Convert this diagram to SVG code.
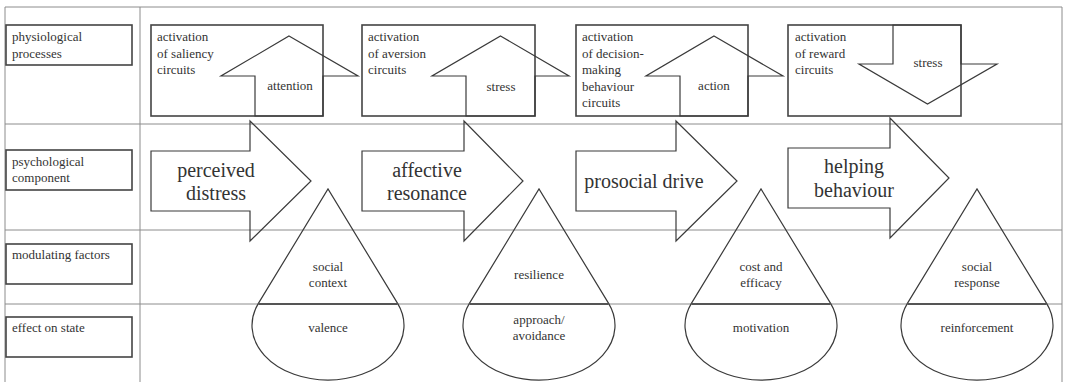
<svg xmlns="http://www.w3.org/2000/svg" width="1070" height="382" viewBox="0 0 1070 382" font-family="Liberation Serif" fill="#333">
<style>
.grid{stroke:#8c8c8c;stroke-width:1;fill:none}
.box{stroke:#444;stroke-width:1.6;fill:none}
.shape{stroke:#3a3a3a;stroke-width:1.2;fill:none}
.chord{stroke:#555;stroke-width:2;fill:none}
.s{font-size:13px}
.m{font-size:13px;text-anchor:middle}
.b{font-size:20px;text-anchor:middle}
</style>
<rect width="1070" height="382" fill="#fff"/>
<g id="grid">
<path class="grid" d="M5,7H1062M5,124H1062M5,230H1062M5,304H1062M5,7V382M140,7V382M1062,7V382"/>
</g>
<g id="labels">
<g id="label-physio"><rect class="box" x="6" y="25" width="126" height="40"/><text class="s" x="12" y="41">physiological</text><text class="s" x="12" y="58">processes</text></g>
<g id="label-psych"><rect class="box" x="6" y="150" width="126" height="40"/><text class="s" x="12" y="166">psychological</text><text class="s" x="12" y="182">component</text></g>
<g id="label-mod"><rect class="box" x="6" y="244" width="126" height="40"/><text class="s" x="12" y="259">modulating factors</text></g>
<g id="label-effect"><rect class="box" x="6" y="317" width="126" height="40"/><text class="s" x="12" y="332">effect on state</text></g>
</g>
<g id="physio1">
<rect class="box" x="151" y="25" width="172" height="91"/>
<text class="s" x="157" y="41">activation</text><text class="s" x="157" y="57.5">of saliency</text><text class="s" x="157" y="74">circuits</text>
<path class="shape" d="M289,36L358,76H323V116H255V76H221Z"/>
<text class="m" x="290" y="90">attention</text>
</g>
<g id="physio2">
<rect class="box" x="362" y="25" width="173" height="91"/>
<text class="s" x="368" y="41">activation</text><text class="s" x="368" y="57.5">of aversion</text><text class="s" x="368" y="74">circuits</text>
<path class="shape" d="M500.5,36L569,76H535V116H466V76H432Z"/>
<text class="m" x="501" y="91">stress</text>
</g>
<g id="physio3">
<rect class="box" x="576" y="25" width="172" height="91"/>
<text class="s" x="582" y="41">activation</text><text class="s" x="582" y="57.5">of decision-</text><text class="s" x="582" y="74">making</text><text class="s" x="582" y="90.5">behaviour</text><text class="s" x="582" y="107">circuits</text>
<path class="shape" d="M714,36L783,76H748V116H680V76H646Z"/>
<text class="m" x="714" y="90">action</text>
</g>
<g id="physio4">
<rect class="box" x="788" y="25" width="173" height="91"/>
<text class="s" x="795" y="41">activation</text><text class="s" x="795" y="57.5">of reward</text><text class="s" x="795" y="74">circuits</text>
<path class="shape" d="M893,25H961V64H997L927.5,104L859,64H893Z"/>
<text class="m" x="928" y="67">stress</text>
</g>
<g id="psych1">
<path class="shape" d="M151,151H250V121L311,181L250,241V211H151Z"/>
<text class="b" x="216" y="177">perceived</text><text class="b" x="216" y="200">distress</text>
</g>
<g id="psych2">
<path class="shape" d="M362,151H464V121L523,181L464,241V211H362Z"/>
<text class="b" x="427" y="177">affective</text><text class="b" x="427" y="200">resonance</text>
</g>
<g id="psych3">
<path class="shape" d="M576,151H676V121L737,181L676,241V211H576Z"/>
<text class="b" x="644" y="188">prosocial drive</text>
</g>
<g id="psych4">
<path class="shape" d="M788,148H890V118L949,178L890,238V208H788Z"/>
<text class="b" x="854" y="173">helping</text><text class="b" x="854" y="197">behaviour</text>
</g>
<g id="drop1">
<path class="shape" d="M258.4,303.4L328,189L397.6,303.4A76 54.7 0 1 1 258.4,303.4Z"/>
<path class="chord" d="M258.4,304H397.6"/>
<text class="m" x="328" y="271">social</text><text class="m" x="328" y="287">context</text>
<text class="m" x="328" y="332">valence</text>
</g>
<g id="drop2">
<path class="shape" d="M469.4,303.4L539,189L608.6,303.4A76 54.7 0 1 1 469.4,303.4Z"/>
<path class="chord" d="M469.4,304H608.6"/>
<text class="m" x="539" y="279">resilience</text>
<text class="m" x="539" y="324">approach/</text><text class="m" x="539" y="340">avoidance</text>
</g>
<g id="drop3">
<path class="shape" d="M691.4,303.4L761,189L830.6,303.4A76 54.7 0 1 1 691.4,303.4Z"/>
<path class="chord" d="M691.4,304H830.6"/>
<text class="m" x="761" y="271">cost and</text><text class="m" x="761" y="287">efficacy</text>
<text class="m" x="761" y="332">motivation</text>
</g>
<g id="drop4">
<path class="shape" d="M907.4,303.4L977,189L1046.6,303.4A76 54.7 0 1 1 907.4,303.4Z"/>
<path class="chord" d="M907.4,304H1046.6"/>
<text class="m" x="977" y="271">social</text><text class="m" x="977" y="287">response</text>
<text class="m" x="977" y="332">reinforcement</text>
</g>
<g id="connectors"></g>
</svg>
